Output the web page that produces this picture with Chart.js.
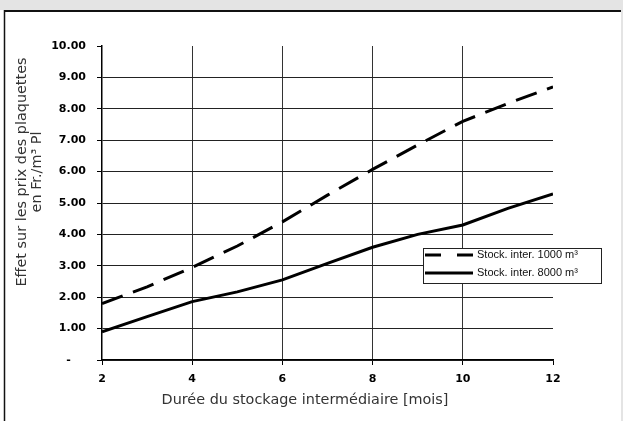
<!DOCTYPE html>
<html lang="fr">
<head>
<meta charset="UTF-8">
<title>Effet du stockage intermédiaire</title>
<script src="https://cdn.jsdelivr.net/npm/chart.js@4.4.1/dist/chart.umd.min.js"></script>
<style>
  html, body { margin: 0; padding: 0; background: #fff; }
  canvas { display: block; }
</style>
</head>
<body>
<canvas id="c" width="623" height="421"></canvas>
<script>
    // durée du stockage (mois) et effet sur le prix (Fr./m3 Pl)
    const months = [2, 3, 4, 5, 6, 7, 8, 9, 10, 11, 12];
    const stock1000 = [1.80, 2.33, 2.95, 3.63, 4.40, 5.25, 6.07, 6.85, 7.60, 8.17, 8.70];
    const stock8000 = [0.90, 1.38, 1.86, 2.17, 2.55, 3.08, 3.59, 4.00, 4.30, 4.83, 5.29];
    const seriesLabels = ['Stock. inter. 1000 m³', 'Stock. inter. 8000 m³'];
    const xTicks = [2, 4, 6, 8, 10, 12];
    const yTicks = [0, 1, 2, 3, 4, 5, 6, 7, 8, 9, 10];

    const yTitle = ['Effet sur les prix des plaquettes', 'en Fr./m³ Pl'];
    const xTitle = 'Durée du stockage intermédiaire [mois]';

    const tickFont = { family: 'DejaVu Sans', size: 11, weight: 'bold' };

    function points(values) {
        return months.map((m, i) => ({ x: m, y: values[i] }));
    }

    // cadre gris + bordure du document scanné
    const framePlugin = {
        id: 'frame',
        beforeDraw(chart) {
            const ctx = chart.ctx;
            ctx.save();
            ctx.fillStyle = '#ffffff';
            ctx.fillRect(0, 0, chart.width, chart.height);
            ctx.fillStyle = '#e4e4e4';
            ctx.fillRect(0, 0, chart.width, 10);
            ctx.fillRect(621, 0, 2, chart.height);
            ctx.strokeStyle = '#111';
            ctx.lineWidth = 2;
            ctx.beginPath();
            ctx.moveTo(4, 11);
            ctx.lineTo(621, 11);
            ctx.stroke();
            ctx.lineWidth = 1.5;
            ctx.beginPath();
            ctx.moveTo(4.5, 10);
            ctx.lineTo(4.5, chart.height);
            ctx.stroke();
            ctx.restore();
        }
    };

    // titres des axes et légende encadrée
    const labelsPlugin = {
        id: 'labels',
        afterDatasetsDraw(chart) {
            const ctx = chart.ctx;
            ctx.save();

            ctx.fillStyle = '#333';
            ctx.font = '14.4px "DejaVu Sans"';
            ctx.textAlign = 'center';
            ctx.textBaseline = 'middle';
            ctx.fillText(xTitle, 305, 400);

            ctx.translate(0, 172);
            ctx.rotate(-Math.PI / 2);
            ctx.fillText(yTitle[0], 0, 22);
            ctx.fillText(yTitle[1], 0, 37);
            ctx.setTransform(1, 0, 0, 1, 0, 0);

            // légende
            const bx = 423, by = 248, bw = 178, bh = 35;
            ctx.fillStyle = '#fff';
            ctx.fillRect(bx, by, bw, bh);
            ctx.strokeStyle = '#222';
            ctx.lineWidth = 1;
            ctx.strokeRect(bx + 0.5, by + 0.5, bw, bh);

            const rows = [255, 273];
            chart.data.datasets.forEach((ds, i) => {
                ctx.strokeStyle = ds.borderColor;
                ctx.lineWidth = ds.borderWidth;
                ctx.setLineDash(i === 0 ? [16, 16] : []);
                ctx.beginPath();
                ctx.moveTo(425, rows[i]);
                ctx.lineTo(473, rows[i]);
                ctx.stroke();
                ctx.setLineDash([]);
                ctx.fillStyle = '#111';
                ctx.font = '11px "Liberation Sans"';
                ctx.textAlign = 'left';
                ctx.textBaseline = 'middle';
                ctx.fillText(ds.label, 477, rows[i]);
            });
            ctx.restore();
        }
    };

    const chart = new Chart(document.getElementById('c'), {
        type: 'line',
        data: {
            datasets: [{
                label: seriesLabels[0],
                data: points(stock1000),
                borderColor: '#000',
                borderWidth: 3,
                borderDash: [22, 11],
                pointRadius: 0,
                tension: 0
            }, {
                label: seriesLabels[1],
                data: points(stock8000),
                borderColor: '#000',
                borderWidth: 3,
                pointRadius: 0,
                tension: 0
            }]
        },
        options: {
            responsive: false,
            animation: false,
            devicePixelRatio: 1,
            layout: { padding: { left: 0, top: 46, right: 70, bottom: 31 } },
            plugins: {
                legend: { display: false },
                tooltip: { enabled: false }
            },
            scales: {
                x: {
                    type: 'linear',
                    min: xTicks[0],
                    max: xTicks[xTicks.length - 1],
                    afterBuildTicks: s => { s.ticks = xTicks.map(v => ({ value: v })); },
                    afterFit: s => { s.height = 30; },
                    ticks: { font: tickFont, color: '#000', padding: 8, maxRotation: 0 },
                    grid: {
                        color: c => (c.tick && (c.tick.value === 2 || c.tick.value === 12)) ? 'rgba(0,0,0,0)' : '#333',
                        lineWidth: 1,
                        tickColor: '#000',
                        tickLength: 5
                    },
                    border: { display: true, color: '#000', width: 1.2 }
                },
                y: {
                    min: yTicks[0],
                    max: yTicks[yTicks.length - 1],
                    afterBuildTicks: s => { s.ticks = yTicks.map(v => ({ value: v })); },
                    afterFit: s => { s.width = 102; },
                    ticks: {
                        font: tickFont,
                        color: '#000',
                        padding: 11,
                        callback: v => v === 0 ? '-\u2007\u2007' : v.toFixed(2)
                    },
                    grid: {
                        color: c => (c.tick && c.tick.value === 10) ? 'rgba(0,0,0,0)' : '#222',
                        lineWidth: 1,
                        tickColor: '#000',
                        tickLength: 5
                    },
                    border: { display: true, color: '#000', width: 1.5 }
                }
            }
        },
        plugins: [framePlugin, labelsPlugin]
    });
</script>
</body>
</html>
